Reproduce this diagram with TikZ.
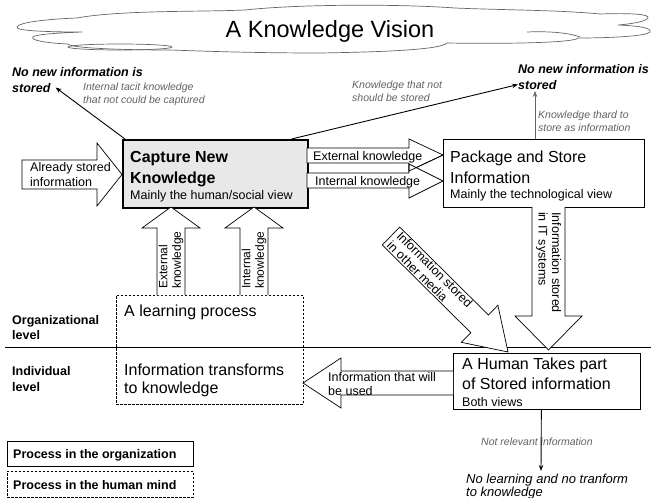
\documentclass[tikz,border=0pt]{standalone}
\usepackage{fontspec}
\setmainfont{Liberation Sans}
\usetikzlibrary{arrows.meta}
\begin{document}
\begin{tikzpicture}[x=1pt,y=-1pt,
  txt/.style={inner sep=0pt, anchor=base west},
  big/.style={txt, font=\fontsize{16}{19}\selectfont},
  bigb/.style={txt, font=\fontsize{16}{19}\selectfont\bfseries},
  mid/.style={txt, font=\fontsize{12.5}{14}\selectfont},
  midb/.style={txt, font=\fontsize{12.5}{14}\selectfont\bfseries},
  note/.style={txt, font=\fontsize{10.5}{12}\selectfont\itshape, text=black!62},
  nonew/.style={txt, font=\fontsize{12.5}{14}\selectfont\bfseries\itshape},
  blk/.style={draw=black, fill=white, line width=0.7pt, line join=miter},
  thinarrow/.style={line width=0.9pt, -{Stealth[length=6pt,width=4.5pt]}},
  dbox/.style={draw, dash pattern=on 2.5pt off 1.5pt, line width=0.6pt, inner sep=0pt, anchor=north west},
  sbox/.style={draw, line width=0.7pt, fill=white, inner sep=0pt, anchor=north west},
  cloudline/.style={draw=black!60, line width=0.7pt},
  rottxt/.style={inner sep=0pt, align=left, font=\fontsize{12.5}{13.5}\selectfont},
]
\useasboundingbox (0,0) rectangle (651,498);

% cloud
\draw[cloudline, fill=white] (77,18)
  .. controls (120,10) and (200,12) .. (245,10)
  .. controls (300,4) and (400,4) .. (455,8)
  .. controls (500,10) and (560,10) .. (600,14)
  .. controls (630,13) and (650,14) .. (648,18)
  .. controls (645,22) and (630,24) .. (618,25)
  .. controls (640,26) and (652,28) .. (650,32)
  .. controls (645,37) and (600,38) .. (578,38)
  .. controls (575,43) and (500,44) .. (447,43)
  .. controls (440,50) and (380,52) .. (320,53)
  .. controls (250,53) and (200,51) .. (170,50)
  .. controls (120,50) and (70,48) .. (68,44)
  .. controls (45,43) and (30,40) .. (33,37)
  .. controls (36,34) and (60,33) .. (82,32)
  .. controls (50,32) and (15,31) .. (17,27)
  .. controls (19,22) and (50,19) .. (77,18) -- cycle;
\draw[cloudline] (120,47) ellipse [x radius=52, y radius=3];
\draw[cloudline] (527,32) .. controls (550,31) and (570,33) .. (580,37);
\node[font=\fontsize{23.5}{27}\selectfont, anchor=base, inner sep=0pt] (title) at (330,37) {A Knowledge Vision};

% boxes
\node[sbox, line width=1.6pt, fill=black!9, minimum width=185pt, minimum height=68pt] (cap) at (122,139) {};
\node[bigb] (cap1) at (130,162) {Capture New};
\node[bigb] (cap2) at (130,183) {Knowledge};
\node[mid] (cap3) at (130,199) {Mainly the human/social view};

\node[sbox, minimum width=201pt, minimum height=68pt] (pkg) at (443,139) {};
\node[big] (pkg1) at (450,162) {Package and Store};
\node[big] (pkg2) at (450,183) {Information};
\node[mid] (pkg3) at (450,198) {Mainly the technological view};

\node[dbox, minimum width=187pt, minimum height=109pt] (learn) at (116,295) {};
\node[big] (learn1) at (124,316) {A learning process};
\node[big] (learn2) at (124,375) {Information transforms};
\node[big] (learn3) at (124,393) {to knowledge};

\node[sbox, minimum width=187pt, minimum height=56pt] (hum) at (453,353) {};
\node[big] (hum1) at (462,369) {A Human Takes part};
\node[big] (hum2) at (462,389) {of Stored information};
\node[mid] (hum3) at (462,406) {Both views};

% level line
\coordinate (ll) at (5,347);
\coordinate (lr) at (651,347);
\draw[line width=0.9pt] (ll) -- (lr);
\node[midb] (org1) at (12,324) {Organizational};
\node[midb] (org2) at (12,339) {level};
\node[midb] (ind1) at (12,375) {Individual};
\node[midb] (ind2) at (12,391) {level};

% legend
\node[sbox, minimum width=186pt, minimum height=25pt] (lgo) at (7,441) {};
\node[midb] (lgot) at (13,458) {Process in the organization};
\node[dbox, minimum width=186pt, minimum height=26pt] (lgm) at (7,471) {};
\node[midb] (lgmt) at (13,489) {Process in the human mind};

% block arrows
\draw[blk] (22,160) -- (97,160) -- (97,143) -- (122,174.5) -- (97,206) -- (97,189) -- (22,189) -- cycle;
\node[mid] (already1) at (30,171) {Already stored};
\node[mid] (already2) at (30,186) {information};

\draw[blk] (307,148) -- (409,148) -- (409,139) -- (443,155) -- (409,171) -- (409,163) -- (307,163) -- cycle;
\draw[blk] (307,173) -- (409,173) -- (409,164) -- (443,181) -- (409,198) -- (409,188) -- (307,188) -- cycle;
\draw[line width=0.7pt] (409,164) -- (409,171) -- (443,155);
\node[mid] (extk) at (313,160) {External knowledge};
\node[mid] (intk) at (315,185) {Internal knowledge};

\draw[blk] (157,295) -- (157,228) -- (142,228) -- (171,207) -- (200,228) -- (185,228) -- (185,295);
\node[rottxt, rotate=90, anchor=west, font=\fontsize{12}{13.5}\selectfont] (upext) at (171,289) {External\\knowledge};
\draw[blk] (240,295) -- (240,228) -- (225,228) -- (254,207) -- (283,228) -- (268,228) -- (268,295);
\node[rottxt, rotate=90, anchor=west, font=\fontsize{12}{13.5}\selectfont] (upint) at (254,289) {Internal\\knowledge};

\draw[blk] (532,207) -- (532,316) -- (515,316) -- (548.5,350) -- (582,316) -- (565,316) -- (565,207);
\node[rottxt, rotate=-90, anchor=west] (itsys) at (548.5,212) {Information stored\\in IT systems};

\draw[blk] (382.2,244.9) -- (470.8,332.7) -- (461.3,342.3) -- (508,352) -- (497.9,305.3) -- (488.4,315.0) -- (399.8,227.1) -- cycle;
\node[rottxt, rotate=-44.75, anchor=west] (media) at (394,238.5) {Information stored\\in other media};

\draw[blk] (453,371) -- (341,371) -- (341,358) -- (303,383) -- (341,408) -- (341,395) -- (453,395);
\node[mid] (used1) at (328,381) {Information that will};
\node[mid] (used2) at (328,395) {be used};

% annotations
\node[nonew] (nnl1) at (12,76) {No new information is};
\node[nonew] (nnl2) at (12,92) {stored};
\node[note] (tacit1) at (83,90) {Internal tacit knowledge};
\node[note] (tacit2) at (83,103) {that not could be captured};
\node[note] (notst1) at (352,88) {Knowledge that not};
\node[note] (notst2) at (352,101) {should be stored};
\node[nonew] (nnr1) at (518,73) {No new information is};
\node[nonew] (nnr2) at (518,89) {stored};
\node[note] (hard1) at (538,118) {Knowledge thard to};
\node[note] (hard2) at (538,131) {store as information};
\node[note] (notrel) at (481,445) {Not relevant information};
\node[txt, font=\fontsize{13}{15}\selectfont\itshape] (nolearn1) at (466,483) {No learning and no tranform};
\node[txt, font=\fontsize{13}{15}\selectfont\itshape] (nolearn2) at (466,496.5) {to knowledge};

% thin arrows
\draw[thinarrow] ([xshift=3pt]cap.north west) -- ([xshift=5pt]nnl2.east);
\draw[thinarrow] ([xshift=-17pt]cap.north east) -- (nnr2.west);
\coordinate (kt) at (535,91);
\draw[thinarrow, draw=black!60, line width=0.7pt] ([xshift=92pt]pkg.north west) -- (kt);
\coordinate (nr) at (541,471);
\draw[thinarrow] ([xshift=-5.5pt]hum.south) -- (nr);
\end{tikzpicture}
\end{document}
